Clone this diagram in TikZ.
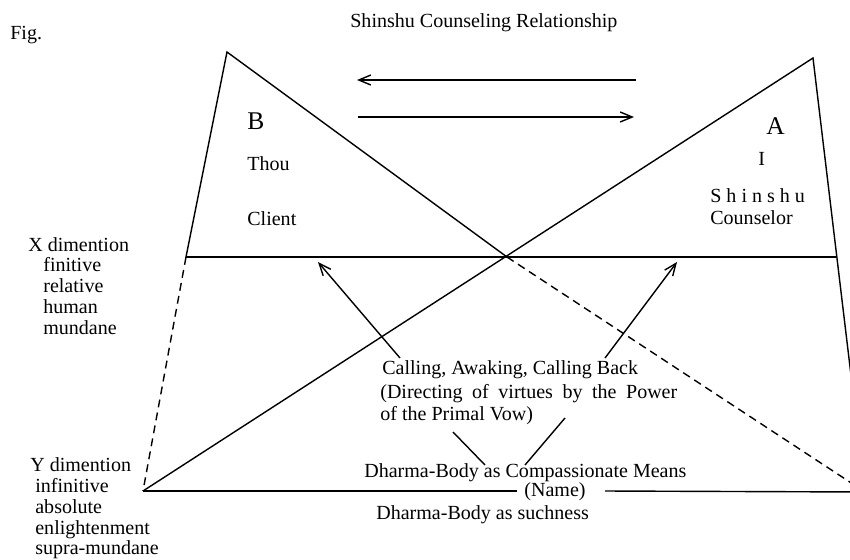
\documentclass[tikz,border=0pt]{standalone}
\usepackage{fontspec}
\setmainfont{Liberation Serif}
\usetikzlibrary{arrows.meta}

\begin{document}
\begin{tikzpicture}[x=0.02cm,y=-0.02cm,>={Straight Barb[length=0.24cm,width=0.2cm]},
  font=\fontsize{11.4}{13}\selectfont]
  \tikzstyle{line}=[thick,line join=miter]
  \tikzstyle{dashline}=[thick,dash pattern=on 4.5pt off 3pt]
  \tikzstyle{txt}=[anchor=base west,inner sep=0pt]
  \tikzstyle{letter}=[txt,font=\fontsize{14.5}{16}\selectfont]
  \useasboundingbox (0,0) rectangle (850,559);
  \fill[white] (0,0) rectangle (850,559);
  \clip (0,0) rectangle (850,559);

  % corners of the two triangles
  \coordinate (apexB) at (227,52);
  \coordinate (apexA) at (813,58);
  \coordinate (xl) at (186,257);
  \coordinate (xr) at (837,257);
  \coordinate (mid) at (507,257);
  \coordinate (yl) at (143,491);
  \coordinate (yr) at (865,492);
  \coordinate (gapl) at (517,491);
  \coordinate (gapr) at (605,491);

  \draw[line] (xl) -- (apexB) -- (mid);
  \draw[line] (yl) -- (apexA) -- (yr);
  \draw[line] (xl) -- (xr);
  \draw[dashline] (xl) -- (yl);
  \draw[dashline] (mid) -- (yr);
  \draw[line] (yl) -- (gapl);
  \draw[line] (gapr) -- (yr);

  % texts
  \node[txt] (fig) at (10,39) {Fig.};
  \node[txt] (title) at (350,27) {Shinshu Counseling Relationship};
  \node[letter] (B) at (247,129) {B};
  \node[txt] (thou) at (247,170) {Thou};
  \node[txt] (client) at (247,225) {Client};
  \node[letter] (A) at (766,134) {A};
  \node[txt] (I) at (758,165) {I};
  \node[txt] (shinshu) at (710,202) {S h i n s h u};
  \node[txt] (counselor) at (710,224) {Counselor};

  \node[txt] (xdim) at (28,251) {X dimention};
  \node[txt] (finitive) at (43,271) {finitive};
  \node[txt] (relative) at (43,292) {relative};
  \node[txt] (human) at (43,313) {human};
  \node[txt] (mundane) at (43,334) {mundane};

  \node[txt] (ydim) at (30,471) {Y dimention};
  \node[txt] (infinitive) at (35,492) {infinitive};
  \node[txt] (absolute) at (35,513) {absolute};
  \node[txt] (enlight) at (35,534) {enlightenment};
  \node[txt] (supra) at (35,554) {supra-mundane};

  \node[txt] (calling) at (382,374) {Calling, Awaking, Calling Back};
  \node[txt] (directing) at (380,398) {\makebox[5.94cm][s]{(Directing of virtues by the Power}};
  \node[txt] (primal) at (380,420) {of the Primal Vow)};
  \node[txt] (means) at (364,477) {Dharma-Body as Compassionate Means};
  \node[txt,anchor=base] (name) at (555,496) {(Name)};
  \node[txt] (suchness) at (376,519) {Dharma-Body as suchness};

  % arrows
  \coordinate (topl) at (357,80);
  \coordinate (topr) at (636,80);
  \coordinate (botl) at (358,117);
  \coordinate (botr) at (634,117);
  \draw[line,->] (topr) -- (topl);
  \draw[line,->] (botl) -- (botr);

  \coordinate (upl) at (400,358);
  \coordinate (tipl) at (318,262);
  \coordinate (upr) at (605,358);
  \coordinate (tipr) at (677,262);
  \draw[line,->] (upl) -- (tipl);
  \draw[line,->] (upr) -- (tipr);

  \coordinate (vl) at (453,432);
  \coordinate (vlb) at (485,465);
  \coordinate (vr) at (565,418);
  \coordinate (vrb) at (525,465);
  \draw[line] (vl) -- (vlb);
  \draw[line] (vr) -- (vrb);
\end{tikzpicture}
\end{document}
